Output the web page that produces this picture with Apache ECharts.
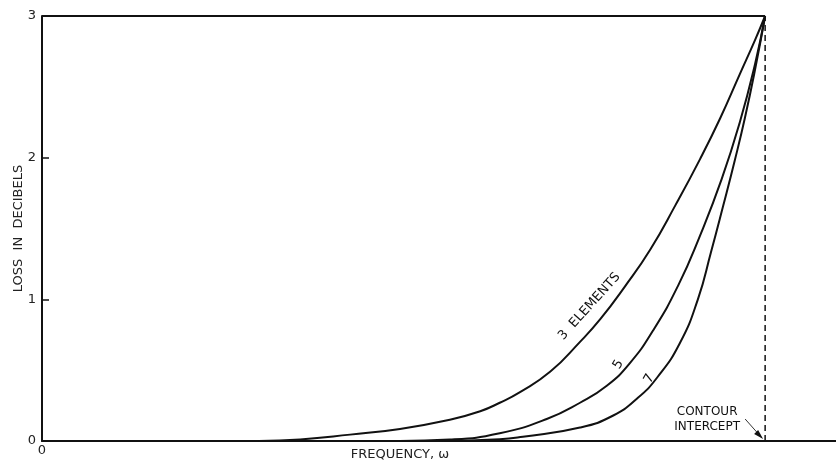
<!DOCTYPE html>
<html><head><meta charset="utf-8">
<script src="https://cdn.jsdelivr.net/npm/echarts@6/dist/echarts.min.js"></script>
<style>html,body{margin:0;padding:0;background:#fff}#c{width:836px;height:463px}</style>
</head><body><div id="c"></div>
<script>
// frequency (normalized to contour intercept = 1), loss in dB
const curve3 = [[0.30,0],[0.357,0.011],[0.426,0.045],[0.495,0.085],[0.564,0.15],[0.606,0.21],[0.633,0.27],[0.661,0.345],[0.703,0.49],[0.744,0.70],[0.772,0.86],[0.806,1.09],[0.841,1.35],[0.876,1.665],[0.910,1.99],[0.938,2.28],[0.965,2.59],[0.986,2.83],[1.0,3.0]];
const curve5 = [[0.495,0],[0.564,0.01],[0.633,0.055],[0.698,0.155],[0.744,0.27],[0.781,0.39],[0.813,0.55],[0.845,0.78],[0.880,1.10],[0.910,1.45],[0.940,1.85],[0.965,2.25],[0.986,2.66],[1.0,3.0]];
const curve7 = [[0.55,0],[0.633,0.012],[0.665,0.03],[0.744,0.095],[0.790,0.18],[0.823,0.30],[0.851,0.45],[0.882,0.69],[0.907,1.0],[0.925,1.33],[0.942,1.66],[0.958,1.98],[0.972,2.28],[0.986,2.62],[1.0,3.0]];
const topBorder = [[0,3],[1,3]];
const intercept = [[1,0],[1,3]];
const yTicks = [0,1,2,3];
const curveLabels = [
  {text:'3  ELEMENTS', at:[0.757,0.95], rot:48},
  {text:'5', at:[0.797,0.54], rot:60},
  {text:'7', at:[0.840,0.44], rot:60}
];
const FONT = '"DejaVu Sans", "Liberation Sans", sans-serif';
const chart = echarts.init(document.getElementById('c'));
const lineS = (data, extra) => Object.assign({type:'line', data, symbol:'none', smooth:0.5,
  lineStyle:{color:'#111', width:2}, silent:true, z:3}, extra||{});
chart.setOption({
  animation:false,
  grid:{left:42, right:0, top:16, bottom:22, containLabel:false, outerBoundsMode:'none'},
  xAxis:{type:'value', min:0, max:1.098, interval:1,
    name:'FREQUENCY, ω', nameLocation:'middle', nameGap:7, nameMoveOverlap:false,
    nameTextStyle:{fontFamily:FONT, fontSize:13, color:'#222', padding:[0,78,0,0]},
    axisLine:{lineStyle:{color:'#111', width:2}}, axisTick:{show:false}, splitLine:{show:false},
    axisLabel:{formatter:v=>v===0?'0':'', fontFamily:FONT, fontSize:13, color:'#222', margin:3}},
  yAxis:{type:'value', min:0, max:3, interval:1,
    name:'LOSS  IN  DECIBELS', nameLocation:'middle', nameGap:17, nameMoveOverlap:false,
    nameTextStyle:{fontFamily:FONT, fontSize:13, color:'#222'},
    axisLine:{lineStyle:{color:'#111', width:2}},
    axisTick:{inside:true, length:7, lineStyle:{color:'#111', width:1.5}},
    splitLine:{show:false},
    axisLabel:{formatter:v=>yTicks.includes(v)?String(v):'', fontFamily:FONT, fontSize:13, color:'#222', margin:6}},
  series:[
    lineS(curve3), lineS(curve5), lineS(curve7),
    lineS(topBorder, {smooth:false, lineStyle:{color:'#111', width:2}}),
    lineS(intercept, {smooth:false, lineStyle:{color:'#111', width:1.5, type:[6,4]}})
  ]
});
const g = curveLabels.map(l => {
  const p = chart.convertToPixel({gridIndex:0}, l.at);
  return {type:'text', x:p[0], y:p[1], rotation:l.rot*Math.PI/180,
    style:{text:l.text, fill:'#111', font:'13px '+FONT, align:'center', verticalAlign:'middle'}};
});
const ci = chart.convertToPixel({gridIndex:0}, [1,0]);
g.push({type:'text', x:ci[0]-58, y:ci[1]-37,
  style:{text:'CONTOUR\nINTERCEPT', fill:'#111', font:'12px '+FONT, align:'center', lineHeight:15}});
g.push({type:'line', shape:{x1:ci[0]-20, y1:ci[1]-22, x2:ci[0]-4, y2:ci[1]-4}, style:{stroke:'#333', lineWidth:1}});
g.push({type:'polygon', shape:{points:[[ci[0]-2,ci[1]-2],[ci[0]-11,ci[1]-7],[ci[0]-7,ci[1]-11]]}, style:{fill:'#111'}});
chart.setOption({graphic:g});
</script></body></html>
